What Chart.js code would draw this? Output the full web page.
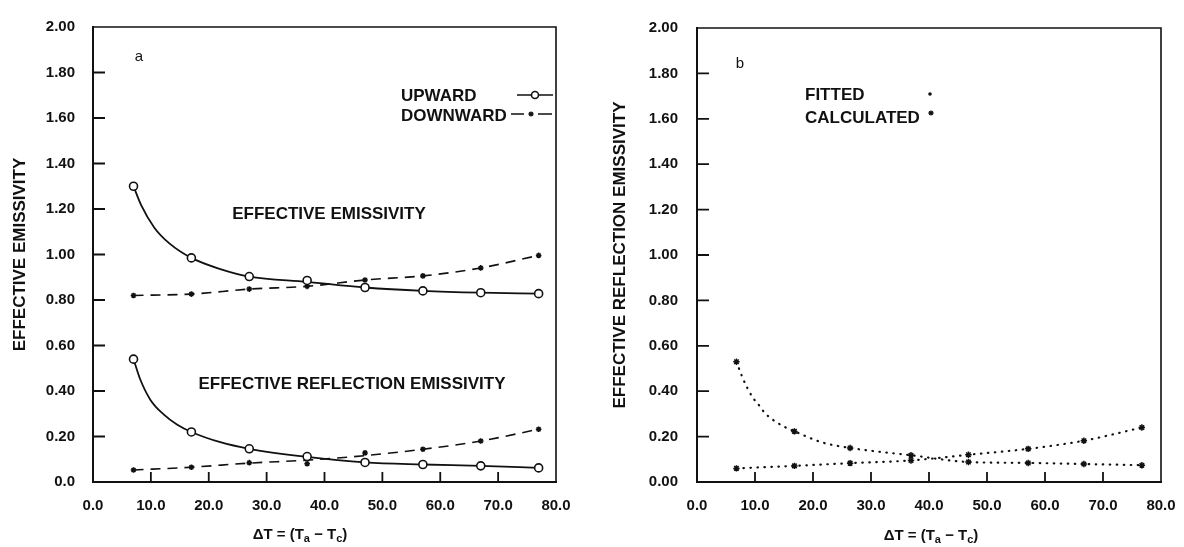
<!DOCTYPE html>
<html>
<head>
<meta charset="utf-8">
<script src="https://cdn.jsdelivr.net/npm/chart.js@4/dist/chart.umd.min.js"></script>
<style>
  html, body { margin: 0; padding: 0; background: #fff; }
  .wrap { display: flex; width: 1184px; height: 547px; }
  .panel { width: 592px; height: 547px; }
</style>
</head>
<body>
<div class="wrap">
  <div class="panel"><canvas id="chartA" width="592" height="547"></canvas></div>
  <div class="panel"><canvas id="chartB" width="592" height="547"></canvas></div>
</div>
<script>
// temperature difference values (deg) at which the markers sit
const deltaT = [7, 17, 27, 37, 47, 57, 67, 77];

// panel a : effective emissivity (markers)
const upwardEmis = [1.300, 0.985, 0.903, 0.886, 0.855, 0.840, 0.832, 0.828];
const downwardEmis = [0.820, 0.826, 0.848, 0.860, 0.888, 0.906, 0.941, 0.996];
// panel a : effective reflection emissivity (markers)
const upwardRefl = [0.540, 0.220, 0.146, 0.112, 0.086, 0.077, 0.071, 0.062];
const downwardRefl = [0.053, 0.065, 0.085, 0.080, 0.128, 0.144, 0.180, 0.232];

// panel a : drawn curves
const upwardEmisCurveX = [7, 8.3, 10.6, 13.2, 17, 22, 27, 37, 47, 57, 67, 77];
const upwardEmisCurve = [1.300, 1.218, 1.118, 1.049, 0.985, 0.936, 0.903, 0.880, 0.855, 0.840, 0.832, 0.828];
const upwardReflCurveX = [7, 8.1, 9.9, 12.2, 14.5, 17, 22, 27, 37, 47, 57, 67, 77];
const upwardReflCurve = [0.540, 0.455, 0.362, 0.297, 0.253, 0.220, 0.175, 0.146, 0.110, 0.086, 0.077, 0.071, 0.062];
const downwardReflCurve = [0.053, 0.065, 0.083, 0.096, 0.116, 0.144, 0.180, 0.232];

// panel b : calculated points
const calcDeltaT = [6.8, 16.8, 26.4, 36.9, 46.8, 57.1, 66.7, 76.7];
const calcUpRefl = [0.530, 0.223, 0.150, 0.118, 0.088, 0.084, 0.079, 0.074];
const calcDownRefl = [0.060, 0.071, 0.083, 0.095, 0.120, 0.146, 0.182, 0.240];
// panel b : fitted (dotted) curve
const fitUpX = [6.8, 7.8, 8.7, 9.7, 10.7, 11.7, 13.6, 15.7, 16.8, 21.5, 26.4, 36.9, 46.8, 57.1, 66.7, 76.7];
const fitUp = [0.530, 0.463, 0.413, 0.369, 0.338, 0.304, 0.265, 0.235, 0.223, 0.175, 0.150, 0.118, 0.088, 0.084, 0.079, 0.074];

const xRange = [0, 80];
const yRange = [0, 2];
const xStep = 10;
const yStep = 0.2;

const INK = '#111';
const FONT = "'Liberation Sans', Arial, Helvetica, sans-serif";

Chart.defaults.font.family = FONT;
Chart.defaults.color = INK;

const pts = (xs, ys) => xs.map((x, i) => ({ x, y: ys[i] }));

// top/right frame plus the inward tick marks of the original plot
const frameTicks = {
  id: 'frameTicks',
  afterDatasetsDraw(chart) {
    const { ctx, chartArea: a, scales: { x, y } } = chart;
    ctx.save();
    ctx.strokeStyle = INK;
    ctx.lineWidth = 1.6;
    ctx.beginPath();
    ctx.moveTo(a.left, a.top);
    ctx.lineTo(a.right, a.top);
    ctx.lineTo(a.right, a.bottom);
    ctx.stroke();
    ctx.lineWidth = 1.8;
    ctx.beginPath();
    y.ticks.forEach(t => {
      if (t.value <= yRange[0] || t.value >= yRange[1]) return;
      const py = y.getPixelForValue(t.value);
      ctx.moveTo(a.left, py);
      ctx.lineTo(a.left + 12, py);
    });
    x.ticks.forEach(t => {
      if (t.value <= xRange[0] || t.value >= xRange[1]) return;
      const px = x.getPixelForValue(t.value);
      ctx.moveTo(px, a.bottom);
      ctx.lineTo(px, a.bottom - 10);
    });
    ctx.stroke();
    ctx.restore();
  }
};

function drawDeltaT(ctx, cx, cy) {
  const parts = [
    ['\u0394T = (T', 0, 15],
    ['a', 4, 11],
    [' \u2212 T', 0, 15],
    ['c', 4, 11],
    [')', 0, 15],
  ];
  let total = 0;
  parts.forEach(([s, , size]) => {
    ctx.font = `bold ${size}px ${FONT}`;
    total += ctx.measureText(s).width;
  });
  let px = cx - total / 2;
  ctx.textAlign = 'left';
  ctx.textBaseline = 'middle';
  parts.forEach(([s, dy, size]) => {
    ctx.font = `bold ${size}px ${FONT}`;
    ctx.fillText(s, px, cy + dy);
    px += ctx.measureText(s).width;
  });
}

function star(ctx, cx, cy, r) {
  ctx.beginPath();
  for (let k = 0; k < 4; k++) {
    const ang = k * Math.PI / 4;
    ctx.moveTo(cx - r * Math.cos(ang), cy - r * Math.sin(ang));
    ctx.lineTo(cx + r * Math.cos(ang), cy + r * Math.sin(ang));
  }
  ctx.stroke();
}

const notesA = {
  id: 'notesA',
  afterDraw(chart) {
    const ctx = chart.ctx;
    ctx.save();
    ctx.fillStyle = INK;
    ctx.strokeStyle = INK;
    ctx.font = `15px ${FONT}`;
    ctx.textAlign = 'center';
    ctx.textBaseline = 'middle';
    ctx.fillText('a', 139, 57);

    ctx.font = `bold 17px ${FONT}`;
    ctx.fillText('EFFECTIVE EMISSIVITY', 329, 214);
    ctx.fillText('EFFECTIVE REFLECTION EMISSIVITY', 352, 384);

    ctx.textAlign = 'left';
    ctx.textBaseline = 'alphabetic';
    ctx.fillText('UPWARD', 401, 101);
    ctx.fillText('DOWNWARD', 401, 121);

    // legend symbols
    ctx.lineWidth = 1.6;
    ctx.beginPath();
    ctx.moveTo(517, 95); ctx.lineTo(531, 95);
    ctx.moveTo(539, 95); ctx.lineTo(553, 95);
    ctx.stroke();
    ctx.beginPath();
    ctx.arc(535, 95, 3.5, 0, Math.PI * 2);
    ctx.stroke();
    ctx.beginPath();
    ctx.moveTo(511, 114); ctx.lineTo(524, 114);
    ctx.moveTo(538, 114); ctx.lineTo(552, 114);
    ctx.stroke();
    ctx.lineWidth = 1.3;
    star(ctx, 531, 114, 2.6);

    ctx.fillStyle = INK;
    drawDeltaT(ctx, 300, 535);
    ctx.restore();
  }
};

const notesB = {
  id: 'notesB',
  afterDraw(chart) {
    const ctx = chart.ctx;
    ctx.save();
    ctx.fillStyle = INK;
    ctx.strokeStyle = INK;
    ctx.font = `15px ${FONT}`;
    ctx.textAlign = 'center';
    ctx.textBaseline = 'middle';
    ctx.fillText('b', 148, 64);

    ctx.font = `bold 17px ${FONT}`;
    ctx.textAlign = 'left';
    ctx.textBaseline = 'alphabetic';
    ctx.fillText('FITTED', 213, 100);
    ctx.fillText('CALCULATED', 213, 123);

    ctx.beginPath();
    ctx.arc(338, 94, 1.8, 0, Math.PI * 2);
    ctx.fill();
    ctx.lineWidth = 1.3;
    star(ctx, 339, 113, 2.6);

    drawDeltaT(ctx, 339, 536);
    ctx.restore();
  }
};

function axes({ axisWidth, xHeight, labelGap, titlePad, yTitle, zeroLabel }) {
  return {
    x: {
      type: 'linear',
      min: xRange[0],
      max: xRange[1],
      afterFit: s => { s.height = xHeight; s.paddingRight = 0; s.paddingLeft = 0; },
      grid: { display: false, drawTicks: false },
      border: { display: true, color: INK, width: 2 },
      ticks: {
        stepSize: xStep,
        padding: 15,
        font: { size: 15, weight: 'bold' },
        color: INK,
        callback: v => Number(v).toFixed(1),
      },
    },
    y: {
      type: 'linear',
      min: yRange[0],
      max: yRange[1],
      afterFit: s => { s.width = axisWidth; },
      grid: { display: false, drawTicks: false },
      border: { display: true, color: INK, width: 2 },
      ticks: {
        stepSize: yStep,
        padding: labelGap,
        font: { size: 15, weight: 'bold' },
        color: INK,
        callback: v => (Math.abs(v) < 1e-9 ? zeroLabel : Number(v).toFixed(2)),
      },
      title: {
        display: true,
        text: yTitle,
        color: INK,
        font: { size: 17, weight: 'bold' },
        padding: { top: titlePad, bottom: 0 },
      },
    },
  };
}

const baseOptions = {
  responsive: false,
  animation: false,
  devicePixelRatio: 1,
  plugins: { legend: { display: false }, tooltip: { enabled: false } },
};

const solidCurve = { borderColor: INK, borderWidth: 1.8, cubicInterpolationMode: 'monotone', pointRadius: 0 };
const dashedCurve = { borderColor: INK, borderWidth: 1.6, borderDash: [10, 7], cubicInterpolationMode: 'monotone', pointRadius: 0 };
const dottedCurve = { borderColor: INK, borderWidth: 2.2, borderDash: [0.5, 6.5], borderCapStyle: 'round', cubicInterpolationMode: 'monotone', pointRadius: 0 };
const openCircles = { showLine: false, pointRadius: 4, pointBorderWidth: 1.6, pointBackgroundColor: '#fff', pointBorderColor: INK };
const stars = { showLine: false, pointStyle: 'star', pointRadius: 2.8, pointBorderWidth: 1.5, pointBorderColor: INK, pointBackgroundColor: INK };

// markers are listed first so that Chart.js paints them above the curves
new Chart(document.getElementById('chartA'), {
  type: 'line',
  data: {
    datasets: [
      { label: 'Upward emissivity', data: pts(deltaT, upwardEmis), ...openCircles },
      { label: 'Downward emissivity', data: pts(deltaT, downwardEmis), ...stars },
      { label: 'Upward reflection emissivity', data: pts(deltaT, upwardRefl), ...openCircles },
      { label: 'Downward reflection emissivity', data: pts(deltaT, downwardRefl), ...stars },
      { label: 'Upward emissivity curve', data: pts(upwardEmisCurveX, upwardEmisCurve), ...solidCurve },
      { label: 'Downward emissivity curve', data: pts(deltaT, downwardEmis), ...dashedCurve },
      { label: 'Upward reflection curve', data: pts(upwardReflCurveX, upwardReflCurve), ...solidCurve },
      { label: 'Downward reflection curve', data: pts(deltaT, downwardReflCurve), ...dashedCurve },
    ],
  },
  options: {
    ...baseOptions,
    layout: { padding: { left: 0, top: 20, right: 36, bottom: 0 } },
    scales: axes({ axisWidth: 93, xHeight: 65, labelGap: 18, titlePad: 10, yTitle: 'EFFECTIVE EMISSIVITY', zeroLabel: '0.0' }),
  },
  plugins: [frameTicks, notesA],
});

new Chart(document.getElementById('chartB'), {
  type: 'line',
  data: {
    datasets: [
      { label: 'Calculated upward', data: pts(calcDeltaT, calcUpRefl), ...stars, pointRadius: 3.2 },
      { label: 'Calculated downward', data: pts(calcDeltaT, calcDownRefl), ...stars, pointRadius: 3.2 },
      { label: 'Fitted upward', data: pts(fitUpX, fitUp), ...dottedCurve },
      { label: 'Fitted downward', data: pts(calcDeltaT, calcDownRefl), ...dottedCurve },
    ],
  },
  options: {
    ...baseOptions,
    layout: { padding: { left: 0, top: 20, right: 23, bottom: 0 } },
    scales: axes({ axisWidth: 105, xHeight: 65, labelGap: 19, titlePad: 18, yTitle: 'EFFECTIVE REFLECTION EMISSIVITY', zeroLabel: '0.00' }),
  },
  plugins: [frameTicks, notesB],
});
</script>
</body>
</html>
